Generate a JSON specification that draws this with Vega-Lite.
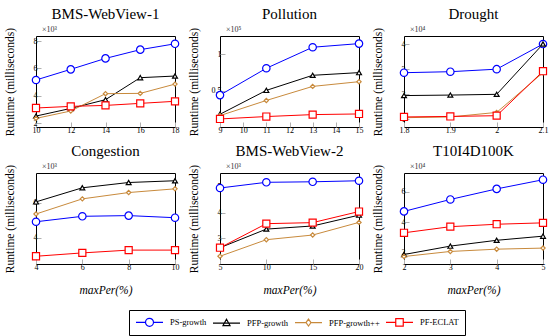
{
  "$schema": "https://vega.github.io/schema/vega-lite/v6.json",
  "padding": {"left": 3, "top": 6, "right": 3, "bottom": 3},
  "background": "white",
  "config": {
    "font": "Liberation Serif",
    "view": {"stroke": "black", "strokeWidth": 1},
    "title": {"font": "Liberation Serif", "fontSize": 15, "fontWeight": "normal", "anchor": "middle", "offset": 4, "color": "black"},
    "axis": {"labelFont": "Liberation Serif", "titleFont": "Liberation Serif", "labelFontSize": 8, "titleFontSize": 11.5, "titleFontWeight": "normal", "domain": false, "grid": false, "tickSize": -5, "tickColor": "#b0b0b0", "labelColor": "black", "titleColor": "black", "labelPadding": 4, "labelOverlap": false, "labelFlush": false, "labelBound": false, "tickCount": 20},
    "axisY": {"minExtent": 14, "maxExtent": 14, "titlePadding": 7},
    "axisX": {"titlePadding": 13},
    "point": {"filled": false, "fill": "white", "fillOpacity": 1, "strokeWidth": 1.2, "opacity": 1},
    "line": {"strokeWidth": 1},
    "legend": {"labelFont": "Liberation Serif", "labelFontSize": 8.5, "labelColor": "black"}
  },
  "data": {"values": [
    {"d":"BMS-WebView-1","alg":"PS-growth","x":10,"y":5150},
    {"d":"BMS-WebView-1","alg":"PS-growth","x":12,"y":5930},
    {"d":"BMS-WebView-1","alg":"PS-growth","x":14,"y":6730},
    {"d":"BMS-WebView-1","alg":"PS-growth","x":16,"y":7370},
    {"d":"BMS-WebView-1","alg":"PS-growth","x":18,"y":7800},
    {"d":"BMS-WebView-1","alg":"PFP-growth","x":10,"y":2510},
    {"d":"BMS-WebView-1","alg":"PFP-growth","x":12,"y":3070},
    {"d":"BMS-WebView-1","alg":"PFP-growth","x":14,"y":3710},
    {"d":"BMS-WebView-1","alg":"PFP-growth","x":16,"y":5320},
    {"d":"BMS-WebView-1","alg":"PFP-growth","x":18,"y":5440},
    {"d":"BMS-WebView-1","alg":"PFP-growth++","x":10,"y":2340},
    {"d":"BMS-WebView-1","alg":"PFP-growth++","x":12,"y":2880},
    {"d":"BMS-WebView-1","alg":"PFP-growth++","x":14,"y":4150},
    {"d":"BMS-WebView-1","alg":"PFP-growth++","x":16,"y":4170},
    {"d":"BMS-WebView-1","alg":"PFP-growth++","x":18,"y":4850},
    {"d":"BMS-WebView-1","alg":"PF-ECLAT","x":10,"y":3100},
    {"d":"BMS-WebView-1","alg":"PF-ECLAT","x":12,"y":3220},
    {"d":"BMS-WebView-1","alg":"PF-ECLAT","x":14,"y":3290},
    {"d":"BMS-WebView-1","alg":"PF-ECLAT","x":16,"y":3440},
    {"d":"BMS-WebView-1","alg":"PF-ECLAT","x":18,"y":3590},
    {"d":"Pollution","alg":"PS-growth","x":9,"y":44000},
    {"d":"Pollution","alg":"PS-growth","x":11,"y":81000},
    {"d":"Pollution","alg":"PS-growth","x":13,"y":110000},
    {"d":"Pollution","alg":"PS-growth","x":15,"y":115000},
    {"d":"Pollution","alg":"PFP-growth","x":9,"y":17600},
    {"d":"Pollution","alg":"PFP-growth","x":11,"y":50500},
    {"d":"Pollution","alg":"PFP-growth","x":13,"y":71300},
    {"d":"Pollution","alg":"PFP-growth","x":15,"y":75000},
    {"d":"Pollution","alg":"PFP-growth++","x":9,"y":15700},
    {"d":"Pollution","alg":"PFP-growth++","x":11,"y":36600},
    {"d":"Pollution","alg":"PFP-growth++","x":13,"y":56000},
    {"d":"Pollution","alg":"PFP-growth++","x":15,"y":62500},
    {"d":"Pollution","alg":"PF-ECLAT","x":9,"y":11100},
    {"d":"Pollution","alg":"PF-ECLAT","x":11,"y":14400},
    {"d":"Pollution","alg":"PF-ECLAT","x":13,"y":17100},
    {"d":"Pollution","alg":"PF-ECLAT","x":15,"y":18000},
    {"d":"Drought","alg":"PS-growth","x":1.8,"y":28600},
    {"d":"Drought","alg":"PS-growth","x":1.9,"y":29000},
    {"d":"Drought","alg":"PS-growth","x":2.0,"y":30000},
    {"d":"Drought","alg":"PS-growth","x":2.1,"y":40000},
    {"d":"Drought","alg":"PFP-growth","x":1.8,"y":19500},
    {"d":"Drought","alg":"PFP-growth","x":1.9,"y":19700},
    {"d":"Drought","alg":"PFP-growth","x":2.0,"y":20000},
    {"d":"Drought","alg":"PFP-growth","x":2.1,"y":40000},
    {"d":"Drought","alg":"PFP-growth++","x":1.8,"y":10700},
    {"d":"Drought","alg":"PFP-growth++","x":1.9,"y":11000},
    {"d":"Drought","alg":"PFP-growth++","x":2.0,"y":12800},
    {"d":"Drought","alg":"PFP-growth++","x":2.1,"y":28600},
    {"d":"Drought","alg":"PF-ECLAT","x":1.8,"y":11000},
    {"d":"Drought","alg":"PF-ECLAT","x":1.9,"y":11200},
    {"d":"Drought","alg":"PF-ECLAT","x":2.0,"y":11500},
    {"d":"Drought","alg":"PF-ECLAT","x":2.1,"y":29200},
    {"d":"Congestion","alg":"PS-growth","x":4,"y":4910},
    {"d":"Congestion","alg":"PS-growth","x":6,"y":5220},
    {"d":"Congestion","alg":"PS-growth","x":8,"y":5260},
    {"d":"Congestion","alg":"PS-growth","x":10,"y":5140},
    {"d":"Congestion","alg":"PFP-growth","x":4,"y":6040},
    {"d":"Congestion","alg":"PFP-growth","x":6,"y":6840},
    {"d":"Congestion","alg":"PFP-growth","x":8,"y":7140},
    {"d":"Congestion","alg":"PFP-growth","x":10,"y":7240},
    {"d":"Congestion","alg":"PFP-growth++","x":4,"y":5350},
    {"d":"Congestion","alg":"PFP-growth++","x":6,"y":6210},
    {"d":"Congestion","alg":"PFP-growth++","x":8,"y":6570},
    {"d":"Congestion","alg":"PFP-growth++","x":10,"y":6780},
    {"d":"Congestion","alg":"PF-ECLAT","x":4,"y":2950},
    {"d":"Congestion","alg":"PF-ECLAT","x":6,"y":3140},
    {"d":"Congestion","alg":"PF-ECLAT","x":8,"y":3300},
    {"d":"Congestion","alg":"PF-ECLAT","x":10,"y":3300},
    {"d":"BMS-WebView-2","alg":"PS-growth","x":5,"y":4950},
    {"d":"BMS-WebView-2","alg":"PS-growth","x":10,"y":5170},
    {"d":"BMS-WebView-2","alg":"PS-growth","x":15,"y":5190},
    {"d":"BMS-WebView-2","alg":"PS-growth","x":20,"y":5230},
    {"d":"BMS-WebView-2","alg":"PFP-growth","x":5,"y":2640},
    {"d":"BMS-WebView-2","alg":"PFP-growth","x":10,"y":3360},
    {"d":"BMS-WebView-2","alg":"PFP-growth","x":15,"y":3480},
    {"d":"BMS-WebView-2","alg":"PFP-growth","x":20,"y":3900},
    {"d":"BMS-WebView-2","alg":"PFP-growth++","x":5,"y":2310},
    {"d":"BMS-WebView-2","alg":"PFP-growth++","x":10,"y":2950},
    {"d":"BMS-WebView-2","alg":"PFP-growth++","x":15,"y":3130},
    {"d":"BMS-WebView-2","alg":"PFP-growth++","x":20,"y":3620},
    {"d":"BMS-WebView-2","alg":"PF-ECLAT","x":5,"y":2640},
    {"d":"BMS-WebView-2","alg":"PF-ECLAT","x":10,"y":3570},
    {"d":"BMS-WebView-2","alg":"PF-ECLAT","x":15,"y":3610},
    {"d":"BMS-WebView-2","alg":"PF-ECLAT","x":20,"y":4040},
    {"d":"T10I4D100K","alg":"PS-growth","x":2,"y":47100},
    {"d":"T10I4D100K","alg":"PS-growth","x":3,"y":54900},
    {"d":"T10I4D100K","alg":"PS-growth","x":4,"y":61800},
    {"d":"T10I4D100K","alg":"PS-growth","x":5,"y":67800},
    {"d":"T10I4D100K","alg":"PFP-growth","x":2,"y":18900},
    {"d":"T10I4D100K","alg":"PFP-growth","x":3,"y":24400},
    {"d":"T10I4D100K","alg":"PFP-growth","x":4,"y":28200},
    {"d":"T10I4D100K","alg":"PFP-growth","x":5,"y":30900},
    {"d":"T10I4D100K","alg":"PFP-growth++","x":2,"y":17600},
    {"d":"T10I4D100K","alg":"PFP-growth++","x":3,"y":20900},
    {"d":"T10I4D100K","alg":"PFP-growth++","x":4,"y":22400},
    {"d":"T10I4D100K","alg":"PFP-growth++","x":5,"y":23100},
    {"d":"T10I4D100K","alg":"PF-ECLAT","x":2,"y":33100},
    {"d":"T10I4D100K","alg":"PF-ECLAT","x":3,"y":37100},
    {"d":"T10I4D100K","alg":"PF-ECLAT","x":4,"y":38700},
    {"d":"T10I4D100K","alg":"PF-ECLAT","x":5,"y":39600}
  ]},
  "columns": 3,
  "bounds": "flush",
  "spacing": {"row": 46, "column": 45},
  "concat": [
    {
      "title": {"text": "BMS-WebView-1", "font": "Liberation Serif", "fontWeight": "normal", "fontSize": 15},
      "width": 139, "height": 91,
      "layer": [
        {"transform": [{"filter": "datum.d == 'BMS-WebView-1'"}],
         "encoding": {
           "x": {"field": "x", "type": "quantitative", "scale": {"domain": [10, 18], "nice": false}, "axis": {"values": [10, 12, 14, 16, 18], "labelExpr": "format(datum.value, '')", "title": null}},
           "y": {"field": "y", "type": "quantitative", "scale": {"domain": [1710, 8370], "nice": false, "zero": false}, "axis": {"values": [2000, 4000, 6000, 8000], "labelExpr": "format(datum.value/1000, '')", "title": "Runtime (milliseconds)"}}
         },
         "layer": [
          {"transform": [{"filter": "datum.x < -1000"}],
           "mark": {"type": "point"},
           "encoding": {
             "color": {"field": "alg", "type": "nominal", "scale": {"domain": ["PS-growth", "PFP-growth", "PFP-growth++", "PF-ECLAT"], "range": ["#0000ff", "#000000", "#c88a3c", "#ff0000"]},
               "legend": {"title": null, "orient": "none", "direction": "horizontal", "legendX": 93, "legendY": 274, "strokeColor": "black", "fillColor": "white", "padding": 6, "symbolSize": 100, "symbolOffset": 0, "labelOffset": 23, "columnPadding": 3, "symbolStrokeWidth": 1.1, "symbolOpacity": 1, "labelFont": "Liberation Serif", "labelFontSize": 8.5}},
             "shape": {"field": "alg", "type": "nominal", "scale": {"domain": ["PS-growth", "PFP-growth", "PFP-growth++", "PF-ECLAT"], "range": ["M-1,0H0.9M2.5,0H4.4M0.9,0A0.8,0.8,0,1,0,2.5,0A0.8,0.8,0,1,0,0.9,0", "M-1,0H4.4M1.7,-0.75L2.4,0.5H1Z", "M-1,0H1.2M2.2,0H4.4M1.7,-0.7L2.2,0L1.7,0.7L1.2,0Z", "M-1,0H0.95M2.45,0H4.4M0.95,-0.75H2.45V0.75H0.95Z"]},
               "legend": {"title": null, "orient": "none", "direction": "horizontal", "legendX": 93, "legendY": 274, "strokeColor": "black", "fillColor": "white", "padding": 6, "symbolSize": 100, "symbolOffset": 0, "labelOffset": 23, "columnPadding": 3, "symbolStrokeWidth": 1.1, "symbolOpacity": 1, "labelFont": "Liberation Serif", "labelFontSize": 8.5}}
           }},
          {"mark": "line", "encoding": {"color": {"field": "alg", "type": "nominal"}}},
          {"transform": [{"filter": "datum.alg == 'PS-growth'"}], "mark": {"type": "point", "shape": "circle", "size": 55}, "encoding": {"stroke": {"field": "alg", "type": "nominal", "scale": {"domain": ["PS-growth", "PFP-growth", "PFP-growth++", "PF-ECLAT"], "range": ["#0000ff", "#000000", "#c88a3c", "#ff0000"]}, "legend": null}}},
          {"transform": [{"filter": "datum.alg == 'PFP-growth'"}], "mark": {"type": "point", "shape": "triangle-up", "size": 24}, "encoding": {"stroke": {"field": "alg", "type": "nominal", "legend": null}}},
          {"transform": [{"filter": "datum.alg == 'PFP-growth++'"}], "mark": {"type": "point", "shape": "diamond", "size": 18}, "encoding": {"stroke": {"field": "alg", "type": "nominal", "legend": null}}},
          {"transform": [{"filter": "datum.alg == 'PF-ECLAT'"}], "mark": {"type": "point", "shape": "square", "size": 50}, "encoding": {"stroke": {"field": "alg", "type": "nominal", "legend": null}}}
         ]},
        {"data": {"values": [{"t": "×10³"}]},
         "mark": {"type": "text", "align": "left", "baseline": "bottom", "dx": 6, "dy": -2, "fontSize": 8, "font": "Liberation Serif", "color": "#333"},
         "encoding": {"x": {"datum": 10, "type": "quantitative"}, "y": {"datum": 8370, "type": "quantitative"}, "text": {"field": "t"}}}
      ]
    },
    {
      "title": {"text": "Pollution", "font": "Liberation Serif", "fontWeight": "normal", "fontSize": 15},
      "width": 139, "height": 91,
      "layer": [
        {"transform": [{"filter": "datum.d == 'Pollution'"}],
         "encoding": {
           "x": {"field": "x", "type": "quantitative", "scale": {"domain": [9, 15], "nice": false}, "axis": {"values": [9, 10, 11, 12, 13, 14, 15], "labelExpr": "format(datum.value, '')", "title": null}},
           "y": {"field": "y", "type": "quantitative", "scale": {"domain": [0, 125500], "nice": false, "zero": false}, "axis": {"values": [50000, 100000], "labelExpr": "format(datum.value/100000, '')", "title": "Runtime (milliseconds)"}}
         },
         "layer": [
          {"mark": "line", "encoding": {"color": {"field": "alg", "type": "nominal"}}},
          {"transform": [{"filter": "datum.alg == 'PS-growth'"}], "mark": {"type": "point", "shape": "circle", "size": 55}, "encoding": {"stroke": {"field": "alg", "type": "nominal", "legend": null}}},
          {"transform": [{"filter": "datum.alg == 'PFP-growth'"}], "mark": {"type": "point", "shape": "triangle-up", "size": 24}, "encoding": {"stroke": {"field": "alg", "type": "nominal", "legend": null}}},
          {"transform": [{"filter": "datum.alg == 'PFP-growth++'"}], "mark": {"type": "point", "shape": "diamond", "size": 18}, "encoding": {"stroke": {"field": "alg", "type": "nominal", "legend": null}}},
          {"transform": [{"filter": "datum.alg == 'PF-ECLAT'"}], "mark": {"type": "point", "shape": "square", "size": 50}, "encoding": {"stroke": {"field": "alg", "type": "nominal", "legend": null}}}
         ]},
        {"data": {"values": [{"t": "×10⁵"}]},
         "mark": {"type": "text", "align": "left", "baseline": "bottom", "dx": 6, "dy": -2, "fontSize": 8, "font": "Liberation Serif", "color": "#333"},
         "encoding": {"x": {"datum": 9, "type": "quantitative"}, "y": {"datum": 125500, "type": "quantitative"}, "text": {"field": "t"}}}
      ]
    },
    {
      "title": {"text": "Drought", "font": "Liberation Serif", "fontWeight": "normal", "fontSize": 15},
      "width": 139, "height": 91,
      "layer": [
        {"transform": [{"filter": "datum.d == 'Drought'"}],
         "encoding": {
           "x": {"field": "x", "type": "quantitative", "scale": {"domain": [1.8, 2.1], "nice": false}, "axis": {"values": [1.8, 1.9, 2, 2.1], "labelExpr": "format(datum.value, '')", "title": null}},
           "y": {"field": "y", "type": "quantitative", "scale": {"domain": [7000, 43200], "nice": false, "zero": false}, "axis": {"values": [10000, 20000, 30000, 40000], "labelExpr": "format(datum.value/10000, '')", "title": "Runtime (milliseconds)"}}
         },
         "layer": [
          {"mark": "line", "encoding": {"color": {"field": "alg", "type": "nominal"}}},
          {"transform": [{"filter": "datum.alg == 'PS-growth'"}], "mark": {"type": "point", "shape": "circle", "size": 55}, "encoding": {"stroke": {"field": "alg", "type": "nominal", "legend": null}}},
          {"transform": [{"filter": "datum.alg == 'PFP-growth'"}], "mark": {"type": "point", "shape": "triangle-up", "size": 24}, "encoding": {"stroke": {"field": "alg", "type": "nominal", "legend": null}}},
          {"transform": [{"filter": "datum.alg == 'PFP-growth++'"}], "mark": {"type": "point", "shape": "diamond", "size": 18}, "encoding": {"stroke": {"field": "alg", "type": "nominal", "legend": null}}},
          {"transform": [{"filter": "datum.alg == 'PF-ECLAT'"}], "mark": {"type": "point", "shape": "square", "size": 50}, "encoding": {"stroke": {"field": "alg", "type": "nominal", "legend": null}}}
         ]},
        {"data": {"values": [{"t": "×10⁴"}]},
         "mark": {"type": "text", "align": "left", "baseline": "bottom", "dx": 6, "dy": -2, "fontSize": 8, "font": "Liberation Serif", "color": "#333"},
         "encoding": {"x": {"datum": 1.8, "type": "quantitative"}, "y": {"datum": 43200, "type": "quantitative"}, "text": {"field": "t"}}}
      ]
    },
    {
      "title": {"text": "Congestion", "font": "Liberation Serif", "fontWeight": "normal", "fontSize": 15},
      "width": 139, "height": 91,
      "layer": [
        {"transform": [{"filter": "datum.d == 'Congestion'"}],
         "encoding": {
           "x": {"field": "x", "type": "quantitative", "scale": {"domain": [4, 10], "nice": false}, "axis": {"values": [4, 6, 8, 10], "labelExpr": "format(datum.value, '')", "title": "maxPer(%)", "titleFontStyle": "italic"}},
           "y": {"field": "y", "type": "quantitative", "scale": {"domain": [2510, 7680], "nice": false, "zero": false}, "axis": {"values": [4000, 6000], "labelExpr": "format(datum.value/1000, '')", "title": "Runtime (milliseconds)"}}
         },
         "layer": [
          {"mark": "line", "encoding": {"color": {"field": "alg", "type": "nominal"}}},
          {"transform": [{"filter": "datum.alg == 'PS-growth'"}], "mark": {"type": "point", "shape": "circle", "size": 55}, "encoding": {"stroke": {"field": "alg", "type": "nominal", "legend": null}}},
          {"transform": [{"filter": "datum.alg == 'PFP-growth'"}], "mark": {"type": "point", "shape": "triangle-up", "size": 24}, "encoding": {"stroke": {"field": "alg", "type": "nominal", "legend": null}}},
          {"transform": [{"filter": "datum.alg == 'PFP-growth++'"}], "mark": {"type": "point", "shape": "diamond", "size": 18}, "encoding": {"stroke": {"field": "alg", "type": "nominal", "legend": null}}},
          {"transform": [{"filter": "datum.alg == 'PF-ECLAT'"}], "mark": {"type": "point", "shape": "square", "size": 50}, "encoding": {"stroke": {"field": "alg", "type": "nominal", "legend": null}}}
         ]},
        {"data": {"values": [{"t": "×10³"}]},
         "mark": {"type": "text", "align": "left", "baseline": "bottom", "dx": 6, "dy": -2, "fontSize": 8, "font": "Liberation Serif", "color": "#333"},
         "encoding": {"x": {"datum": 4, "type": "quantitative"}, "y": {"datum": 7680, "type": "quantitative"}, "text": {"field": "t"}}}
      ]
    },
    {
      "title": {"text": "BMS-WebView-2", "font": "Liberation Serif", "fontWeight": "normal", "fontSize": 15},
      "width": 139, "height": 91,
      "layer": [
        {"transform": [{"filter": "datum.d == 'BMS-WebView-2'"}],
         "encoding": {
           "x": {"field": "x", "type": "quantitative", "scale": {"domain": [5, 20], "nice": false}, "axis": {"values": [5, 10, 15, 20], "labelExpr": "format(datum.value, '')", "title": "maxPer(%)", "titleFontStyle": "italic"}},
           "y": {"field": "y", "type": "quantitative", "scale": {"domain": [2010, 5530], "nice": false, "zero": false}, "axis": {"values": [3000, 4000, 5000], "labelExpr": "format(datum.value/1000, '')", "title": "Runtime (milliseconds)"}}
         },
         "layer": [
          {"mark": "line", "encoding": {"color": {"field": "alg", "type": "nominal"}}},
          {"transform": [{"filter": "datum.alg == 'PS-growth'"}], "mark": {"type": "point", "shape": "circle", "size": 55}, "encoding": {"stroke": {"field": "alg", "type": "nominal", "legend": null}}},
          {"transform": [{"filter": "datum.alg == 'PFP-growth'"}], "mark": {"type": "point", "shape": "triangle-up", "size": 24}, "encoding": {"stroke": {"field": "alg", "type": "nominal", "legend": null}}},
          {"transform": [{"filter": "datum.alg == 'PFP-growth++'"}], "mark": {"type": "point", "shape": "diamond", "size": 18}, "encoding": {"stroke": {"field": "alg", "type": "nominal", "legend": null}}},
          {"transform": [{"filter": "datum.alg == 'PF-ECLAT'"}], "mark": {"type": "point", "shape": "square", "size": 50}, "encoding": {"stroke": {"field": "alg", "type": "nominal", "legend": null}}}
         ]},
        {"data": {"values": [{"t": "×10³"}]},
         "mark": {"type": "text", "align": "left", "baseline": "bottom", "dx": 6, "dy": -2, "fontSize": 8, "font": "Liberation Serif", "color": "#333"},
         "encoding": {"x": {"datum": 5, "type": "quantitative"}, "y": {"datum": 5530, "type": "quantitative"}, "text": {"field": "t"}}}
      ]
    },
    {
      "title": {"text": "T10I4D100K", "font": "Liberation Serif", "fontWeight": "normal", "fontSize": 15},
      "width": 139, "height": 91,
      "layer": [
        {"transform": [{"filter": "datum.d == 'T10I4D100K'"}],
         "encoding": {
           "x": {"field": "x", "type": "quantitative", "scale": {"domain": [2, 5], "nice": false}, "axis": {"values": [2, 3, 4, 5], "labelExpr": "format(datum.value, '')", "title": "maxPer(%)", "titleFontStyle": "italic"}},
           "y": {"field": "y", "type": "quantitative", "scale": {"domain": [12700, 72200], "nice": false, "zero": false}, "axis": {"values": [20000, 40000, 60000], "labelExpr": "format(datum.value/10000, '')", "title": "Runtime (milliseconds)"}}
         },
         "layer": [
          {"mark": "line", "encoding": {"color": {"field": "alg", "type": "nominal"}}},
          {"transform": [{"filter": "datum.alg == 'PS-growth'"}], "mark": {"type": "point", "shape": "circle", "size": 55}, "encoding": {"stroke": {"field": "alg", "type": "nominal", "legend": null}}},
          {"transform": [{"filter": "datum.alg == 'PFP-growth'"}], "mark": {"type": "point", "shape": "triangle-up", "size": 24}, "encoding": {"stroke": {"field": "alg", "type": "nominal", "legend": null}}},
          {"transform": [{"filter": "datum.alg == 'PFP-growth++'"}], "mark": {"type": "point", "shape": "diamond", "size": 18}, "encoding": {"stroke": {"field": "alg", "type": "nominal", "legend": null}}},
          {"transform": [{"filter": "datum.alg == 'PF-ECLAT'"}], "mark": {"type": "point", "shape": "square", "size": 50}, "encoding": {"stroke": {"field": "alg", "type": "nominal", "legend": null}}}
         ]},
        {"data": {"values": [{"t": "×10⁴"}]},
         "mark": {"type": "text", "align": "left", "baseline": "bottom", "dx": 6, "dy": -2, "fontSize": 8, "font": "Liberation Serif", "color": "#333"},
         "encoding": {"x": {"datum": 2, "type": "quantitative"}, "y": {"datum": 72200, "type": "quantitative"}, "text": {"field": "t"}}}
      ]
    }
  ]
}
